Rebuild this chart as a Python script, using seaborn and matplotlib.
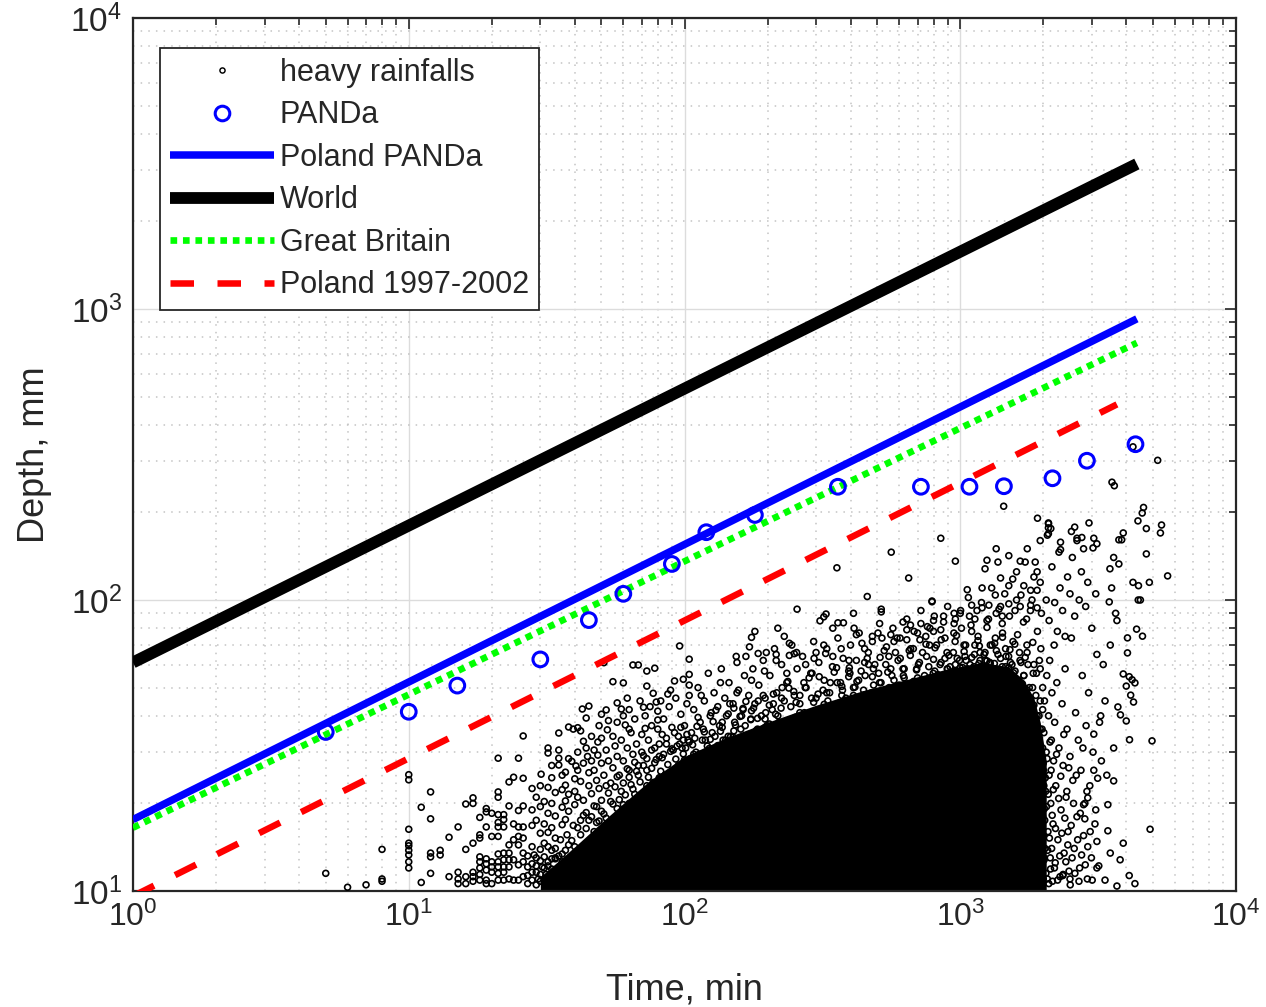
import numpy as np
import pandas as pd
import matplotlib
matplotlib.use("Agg")
import matplotlib.pyplot as plt
from matplotlib.lines import Line2D
import matplotlib.ticker as mticker
import seaborn as sns

# ---------------- data ----------------
panda_t = [5, 10, 15, 30, 45, 60, 90, 120, 180, 360, 720, 1080, 1440, 2160, 2880, 4320]
panda_d = [35.2, 41.3, 50.8, 62.5, 85.3, 105, 133, 171, 196, 245, 245, 245, 246, 262, 301, 343]

world_t = [1, 4370]
world_d = [61, 3150]
poland_panda_t = [1, 4370]
poland_panda_d = [17.6, 925]
gb_t = [1, 4370]
gb_d = [16.5, 765]
pl9702_t = [1, 3700]
pl9702_d = [9.6, 470]

# saturated (solid black) core of the heavy-rainfall cloud: upper envelope
core_t = [30, 36, 42, 50, 60, 75, 100, 140, 200, 300, 450, 650, 900, 1200, 1500, 1700, 1850, 1950, 2050]
core_top = [11.2, 13.0, 14.8, 17.2, 20.0, 24.0, 29.0, 33.5, 38.0, 43.5, 49.0, 53.5, 58.0, 61.0, 59.0, 53.0, 46.0, 38.0, 28.0]
core_low = 10.05

rain_left = [
    (5, 11.5), (6, 10.3), (7, 10.5), (8, 10.8), (8, 11.0), (8, 13.9),
    (10, 25.1), (10, 24.1), (10, 16.3), (10, 14.6), (10, 14.3), (10, 13.8), (10, 13.3), (10, 12.6), (10, 12.0),
    (11.1, 19.4), (11.1, 10.7), (12.0, 21.9), (12.0, 17.7), (12.0, 13.5), (12.0, 13.1), (12.0, 11.5),
    (13.0, 13.8), (13.0, 13.3), (14.0, 15.3), (14.0, 11.2), (15.1, 16.6), (15.1, 11.6), (15.1, 11.0),
    (15.1, 10.6), (16.1, 19.9), (16.1, 13.9), (16.1, 11.2), (16.1, 10.6), (17.1, 20.9), (17.1, 20.0),
    (17.1, 14.6), (17.1, 11.6), (17.1, 11.2), (17.1, 10.8), (18.1, 17.9), (18.1, 15.6), (18.1, 15.2),
    (18.1, 13.1), (18.1, 12.6), (18.1, 12.0), (18.1, 11.4), (18.1, 10.9), (19.1, 19.2), (19.1, 18.7),
    (19.1, 16.6), (19.1, 12.9), (19.1, 12.4), (19.1, 11.8), (19.1, 10.9), (19.1, 10.6), (20, 18.5),
    (20, 15.4), (20, 12.6), (20, 12.1), (20, 11.6), (20, 10.6), (21.1, 28.6), (21.1, 21.9), (21.1, 21.0),
    (21.1, 18.3), (21.1, 17.2), (21.1, 16.6), (21.1, 15.4), (21.1, 13.4), (21.1, 12.6), (21.1, 12.1),
    (21.1, 11.5), (21.1, 10.9), (22.1, 18.3), (22.1, 17.6), (22.1, 16.6), (22.1, 13.5), (22.1, 12.8),
    (22.1, 12.1), (22.1, 11.6), (22.1, 10.9), (23.1, 23.7), (23.1, 19.6), (23.1, 14.4), (23.1, 13.5),
    (23.1, 12.8), (23.1, 12.1), (23.1, 11.0), (24, 24.6), (24, 17.0), (24, 15.0), (24, 12.8), (24, 10.9),
    (25, 28.6), (25, 18.9), (25, 16.6), (25, 15.4), (25, 14.4), (25, 12.3), (25, 10.9), (26, 34.1),
    (26, 24.4), (26, 19.6), (26, 16.6), (26, 15.2), (26, 13.5), (26, 12.6), (26, 11.2),
    (27, 10.6), (27, 11.3), (27, 12.1), (27, 13.2), (28, 10.9), (28, 12.4), (29, 10.5), (29, 11.6),
    (29, 12.2), (30, 10.8), (30, 11.4), (31, 10.6), (31, 12.0), (31, 13.1), (32, 11.0), (32, 12.6),
    (33, 10.7), (33, 11.9), (34, 11.2), (34, 12.9), (35, 10.5), (35, 12.0), (36, 11.6), (36, 13.4),
    (28, 11.6), (28.5, 13.3), (29.5, 11.0), (30, 13.9), (30.5, 12.1), (31.5, 11.4), (32, 14.2),
    (33, 12.9), (34, 14.0), (35, 13.2), (35.5, 15.0), (37, 13.8), (37.5, 15.6), (39, 14.9),
    (39.5, 16.8), (42, 17.5), (44, 18.6), (46, 18.0), (48, 19.5), (50, 18.8),
]

rain_mid_left = [
    (30.2, 25.2), (32, 31.0), (32, 29.8), (35, 34.9), (35, 30.5), (35, 28.6), (35, 27.1), (33, 27.0),
    (37, 25.6), (39, 27.9), (38, 36.6), (39.5, 36.0), (41, 36.4), (42, 35.5), (40.4, 26.9), (42.6, 42.2),
    (45, 43.2), (44, 39.3), (43, 32.7), (44, 31.0), (44.5, 29.0), (48.5, 32.5), (48.5, 29.3), (50, 40.5),
    (52, 41.9), (51, 60.9), (52.5, 35.8), (55, 52.4), (57, 44.3), (59, 42.2), (60, 51.9), (62, 46.0),
    (61, 37.2), (63, 36.0), (65, 59.8), (68, 59.8), (73, 57.0), (78, 58.3), (73, 50.6), (77, 47.8),
    (79, 44.6), (71, 42.8), (72, 36.2), (80, 38.7), (80, 36.0), (82, 45.0), (87, 47.5), (89, 49.0),
    (92, 52.7), (99, 53.4), (96, 69.5), (104, 62.6), (104, 55.5), (104, 51.0), (104, 47.0),
    (28, 22.5), (28, 19.0), (28, 16.8), (28, 14.2), (29, 21.0), (29, 17.5), (29, 13.0), (30, 23.0),
    (30, 19.5), (30, 15.8), (30, 12.7), (31, 20.3), (31, 17.0), (31, 14.6), (32, 22.7), (32, 18.5),
    (32, 15.9), (33, 24.5), (33, 20.0), (33, 16.5), (33, 13.8), (34, 21.8), (34, 18.1), (34, 15.2),
    (36, 25.0), (36, 22.3), (36, 19.4), (36, 16.9), (37, 23.1), (37, 20.4), (37, 17.6), (38, 28.5),
    (38, 21.5), (38, 18.8), (40, 24.3), (40, 22.0), (40, 19.8), (41, 30.0), (41, 26.0), (41, 21.0),
    (42, 23.8), (43, 27.5), (43, 20.5), (45, 25.5), (45, 23.0), (46, 34.0), (46, 28.0), (46, 21.6),
    (47, 30.5), (47, 26.0), (48, 24.0), (49, 37.0), (49, 22.5), (50, 33.5), (50, 27.5), (51, 25.0),
    (52, 30.5), (53, 38.5), (53, 28.0), (54, 23.5), (55, 34.0), (55, 26.5), (56, 31.5), (57, 38.0),
    (57, 29.0), (58, 25.0), (59, 33.0), (60, 40.0), (60, 28.0), (62, 31.0), (63, 42.0), (63, 26.0),
    (64, 35.0), (65, 29.5), (66, 39.0), (67, 32.0), (68, 27.0), (69, 45.0), (70, 34.5), (70, 30.0),
    (72, 40.0), (73, 28.5), (74, 33.0), (75, 43.0), (76, 37.0), (78, 31.0), (80, 41.5), (81, 29.0),
    (83, 34.5), (84, 39.0), (86, 32.0), (88, 43.0), (90, 36.5), (91, 30.5), (93, 46.0), (95, 34.0),
    (97, 40.5), (98, 31.0), (100, 37.0), (102, 44.0), (103, 33.0),
    (52, 23.0), (54, 20.3), (57, 24.7), (59, 22.0), (62, 26.3), (64, 23.2), (66, 27.7), (68, 25.0),
    (71, 29.2), (73, 26.0), (76, 30.5), (78, 27.6), (81, 32.0), (83, 28.7), (86, 33.5), (89, 30.2),
    (92, 35.0), (94, 31.5), (97, 36.5), (99, 33.0),
]

rain_edge = [
    (32, 12.2), (34, 13.0), (36, 12.6), (38, 14.4), (40, 14.2), (42, 15.6), (44, 16.4), (47, 16.0),
    (49, 17.4), (52, 17.8), (54, 17.0), (57, 19.2), (60, 19.8), (63, 20.0), (66, 21.5), (69, 21.0),
    (73, 23.0), (77, 23.6), (81, 24.5), (85, 25.0), (90, 25.3), (95, 27.0), (100, 28.2), (108, 29.5),
    (115, 29.0), (123, 30.9), (132, 31.6), (141, 32.2), (150, 33.8), (160, 33.5), (170, 34.3),
    (182, 35.6), (195, 36.4), (210, 36.2), (225, 37.8), (240, 38.7), (258, 38.0), (277, 40.3),
    (297, 41.2), (318, 41.0), (340, 43.0), (365, 44.3), (390, 43.6), (418, 46.0), (448, 47.2),
    (480, 46.5), (515, 48.6), (552, 50.0), (590, 49.0), (632, 51.3), (677, 52.5), (725, 51.5),
    (776, 54.0), (830, 55.4), (890, 54.3), (953, 57.0), (1020, 58.6), (1090, 57.7), (1168, 60.5),
    (1250, 61.8), (1330, 60.5), (1420, 59.0), (1500, 58.5), (1560, 56.2), (1620, 53.0), (1680, 51.5),
    (1740, 49.2), (1800, 46.0), (1850, 43.5), (1900, 40.0), (1950, 36.0), (1990, 31.0), (2000, 27.5),
    (2010, 23.0), (2020, 19.2), (2000, 15.5), (2010, 13.0), (2000, 11.0),
]

rain_mid = [
    (106, 35), (108, 42), (110, 30), (112, 50), (114, 38), (116, 33), (118, 45), (120, 29.5),
    (122, 56), (124, 40), (126, 35), (128, 48), (130, 31), (132, 43), (134, 37), (136, 58),
    (138, 33), (140, 46), (142, 40), (145, 52), (147, 34), (150, 44), (152, 38), (155, 61),
    (157, 49), (160, 36), (163, 42), (165, 55), (168, 32), (171, 47), (174, 39), (177, 58),
    (180, 44), (183, 35), (186, 51), (190, 40), (193, 62), (196, 46), (199, 37),
    (204, 55), (208, 42), (212, 68), (216, 48), (220, 38), (225, 60), (230, 45), (235, 52),
    (240, 36), (245, 70), (250, 47), (256, 58), (262, 41), (268, 64), (274, 50), (280, 39),
    (287, 56), (294, 72), (300, 46), (307, 61), (314, 42), (321, 53), (328, 68), (336, 48),
    (344, 59), (352, 43), (360, 74), (368, 52), (376, 63), (385, 46), (394, 57), (400, 70),
    (410, 50), (420, 62), (430, 45), (440, 71), (452, 55), (464, 66), (476, 48), (490, 60),
    (503, 77), (516, 52), (530, 67), (545, 47), (560, 58), (575, 72), (590, 50), (606, 63),
    (622, 55), (640, 79), (658, 49), (676, 68), (695, 58), (714, 73), (734, 52), (755, 64),
    (776, 80), (798, 56),
    (820, 70), (845, 60), (870, 88), (895, 66), (920, 55), (948, 77), (975, 63), (1003, 92),
    (1032, 70), (1062, 58), (1094, 82), (1126, 65), (1160, 75), (1194, 98), (1230, 62), (1266, 86),
    (1304, 70), (1342, 58), (1382, 93), (1423, 77), (1465, 64), (1508, 88), (1553, 72), (1600, 100),
    (1647, 62), (1695, 84), (1745, 70), (1797, 92), (1850, 60), (1905, 78), (1960, 68),
    (1050, 62), (1120, 59), (1180, 66), (1280, 61), (1370, 65), (1460, 59), (1540, 60), (1700, 55),
    (1780, 50), (1880, 47), (900, 58), (960, 60), (700, 54), (600, 51), (470, 47), (350, 42),
]

rain_mid2 = [
    (101, 31), (105, 28.5), (109, 33.5), (113, 29.5), (117, 36), (121, 31.5), (125, 41), (129, 34),
    (133, 30.5), (137, 38), (141, 33), (146, 44), (151, 35.5), (156, 32), (161, 40), (166, 37),
    (172, 34.5), (178, 42.5), (184, 36), (190, 33.8), (196, 39),
    (203, 37.5), (210, 44), (218, 40), (226, 50), (234, 37.8), (243, 43), (252, 39.5), (262, 47),
    (272, 41), (283, 54), (294, 44.5), (306, 40.5), (318, 49), (331, 45), (344, 42.5), (358, 52),
    (372, 47), (387, 44), (398, 56),
    (410, 47), (428, 53), (446, 49), (465, 60), (485, 51), (506, 56), (528, 48.5), (551, 64),
    (575, 53), (600, 50), (626, 58), (653, 67), (681, 52), (711, 61), (742, 55), (774, 70),
    (808, 57), (843, 53), (880, 63), (918, 59), (958, 72), (1000, 58.5),
    (1040, 64), (1085, 60), (1130, 70), (1180, 62), (1230, 66), (1285, 60.5), (1340, 74), (1400, 63),
    (1460, 68), (1520, 61), (1580, 57), (1640, 66), (1700, 55), (1760, 60), (1830, 50), (1890, 56),
    (1950, 45), (1990, 50), (1930, 40), (1980, 36),
    (115, 47), (135, 52), (155, 48), (175, 53), (195, 57), (215, 62), (235, 56), (255, 66),
    (275, 60), (295, 63), (320, 70), (345, 64), (370, 68), (395, 62), (420, 76), (450, 68),
    (480, 72), (510, 83), (540, 69), (570, 80), (605, 74), (640, 86), (680, 78), (720, 92),
    (760, 81), (805, 88), (850, 79), (900, 95), (950, 90), (1010, 80), (1070, 102), (1130, 86),
    (1200, 110), (1270, 96), (1340, 104), (1420, 88), (1500, 112), (1580, 92), (1660, 104),
    (1740, 86), (1820, 100), (1900, 108), (1970, 90),
]

rain_mid3 = [
    (41, 16.5), (43, 18.2), (45, 17.5), (47, 19.6), (48, 17.2), (50, 20.5), (51, 18.4), (53, 21.7),
    (55, 19.9), (56, 22.8), (58, 20.6), (60, 23.5), (61, 21.4), (63, 24.6), (65, 22.4), (67, 25.8),
    (69, 23.7), (71, 27.0), (74, 24.6), (76, 26.4), (79, 28.3), (82, 25.8), (84, 29.5), (87, 27.2),
    (90, 30.8), (93, 28.4), (96, 32.0), (99, 29.6),
    (104, 32.5), (111, 36.8), (119, 33.0), (127, 38.2), (135, 35.4), (144, 40.6), (153, 37.2),
    (163, 42.4), (174, 38.8), (185, 45.0), (197, 41.0), (210, 47.5), (224, 42.5), (239, 49.8),
    (254, 44.5), (271, 52.0), (289, 46.0), (308, 54.5), (328, 48.0), (349, 56.5), (372, 50.5),
    (396, 58.5),
    (422, 52.5), (450, 61.0), (480, 54.5), (512, 63.5), (546, 56.5), (582, 66.0), (620, 58.0),
    (661, 68.0), (705, 60.0), (751, 70.5), (800, 62.5), (853, 73.0), (909, 64.5), (969, 75.5),
    (1033, 66.5), (1100, 78.0), (1173, 69.5), (1250, 80.5), (1333, 71.0), (1420, 83.0), (1514, 67.5),
    (1614, 76.0), (1720, 63.5), (1833, 71.5), (1950, 58.0),
    (2015, 12.8), (2025, 17.5), (2035, 24.5), (2045, 11.5), (2055, 19.5), (2065, 28.5), (2075, 13.8),
    (2085, 21.5), (2095, 10.6), (2105, 15.2), (2115, 32.5), (2125, 11.9), (2135, 26.0), (2145, 14.0),
    (2155, 18.2), (2175, 22.3), (2195, 12.0), (2215, 16.4), (2235, 29.5), (2255, 10.9), (2275, 20.8),
    (2295, 13.2), (2315, 24.8), (2335, 15.8), (2355, 11.3), (2375, 34.5), (2395, 17.8), (2415, 12.6),
    (2435, 22.0), (2455, 14.4), (2475, 26.5), (2505, 10.5), (2525, 16.8), (2545, 13.0), (2575, 20.0),
    (2605, 11.5), (2635, 25.0), (2665, 15.0), (2695, 10.8), (2725, 18.5), (2755, 13.3), (2785, 31.0),
    (2840, 12.3), (2880, 22.0), (2960, 16.0), (3010, 10.9), (3100, 19.0),
]

rain_mid4 = [
    (102, 34.5), (107, 31.8), (112, 39.5), (118, 35.2), (124, 33.2), (130, 41.8), (137, 36.5),
    (144, 34.0), (151, 42.5), (159, 39.8), (167, 44.8), (175, 41.6), (184, 39.2), (193, 47.0),
    (203, 43.5), (214, 40.5), (225, 46.0), (237, 52.5), (249, 48.5), (262, 44.0), (276, 50.0),
    (290, 56.0), (305, 47.5), (321, 43.8), (338, 52.0), (356, 58.5), (374, 49.0), (394, 54.5),
    (415, 50.2), (437, 57.0), (460, 63.0), (484, 58.0), (510, 52.0), (537, 60.0), (565, 55.0),
    (595, 62.0), (626, 54.0), (659, 64.5), (694, 57.5), (730, 66.0), (769, 59.0), (810, 68.5),
    (852, 61.0), (897, 58.0), (944, 66.0), (994, 62.0), (1046, 70.0), (1101, 63.5), (1159, 72.5),
    (1220, 65.0), (1285, 70.0), (1352, 67.0), (1423, 74.5), (1498, 64.0), (1577, 70.5), (1660, 61.0),
    (1747, 66.0), (1839, 56.0), (1936, 62.0), (1990, 42.0),
]

rain_upper = [
    (1437, 210), (1906, 191), (2088, 184), (2088, 177), (2088, 169), (850, 163), (562, 146), (960, 136),
    (357, 129), (650, 119), (460, 102.8), (790, 99.2), (1250, 137), (1230, 128), (1370, 135), (1650, 136),
    (1720, 135), (1870, 135), (1900, 125), (1400, 119), (1060, 108.5), (256, 93), (517, 93), (790, 98.6),
    (310, 84.8), (320, 87.5), (326, 89.5), (345, 80), (360, 83.5), (377, 83.5), (410, 90), (412, 80),
    (430, 77), (517, 91), (218, 80), (230, 75), (240, 71), (250, 65.4), (180, 78), (175, 74.4),
    (172, 69), (167, 64), (154, 64), (185, 65.5), (198, 66), (215, 65), (240, 64.5), (300, 66),
    (325, 65.5), (620, 84), (660, 82), (720, 83), (800, 85), (870, 84), (950, 83), (480, 75),
    (520, 74), (560, 76), (590, 74), (640, 73), (700, 77), (750, 75), (800, 78), (880, 74), (960, 86),
    (1000, 90), (1080, 88), (1150, 92), (1250, 85), (1350, 90), (1400, 95), (1100, 96), (1200, 94),
    (1500, 97), (1650, 95), (1800, 96), (1900, 94), (1300, 110), (1450, 105), (1550, 118), (1600, 125),
    (1700, 112), (1800, 108), (1950, 115), (1350, 150), (1500, 142), (1750, 150), (1950, 160), (1850, 120),
]

rain_right = [
    (1980, 12), (1990, 18), (2000, 26), (2010, 35), (2020, 45), (2030, 14), (2040, 22), (2050, 30),
    (2060, 55), (2070, 11), (2080, 16), (2090, 40), (2100, 25), (2110, 62), (2120, 13), (2130, 20),
    (2140, 33), (2150, 48), (2160, 10.8), (2170, 17), (2180, 28), (2190, 70), (2200, 38), (2210, 12.5),
    (2220, 23), (2240, 52), (2260, 15), (2280, 31), (2300, 11.2), (2320, 19), (2340, 44), (2360, 27),
    (2380, 13.5), (2400, 58), (2420, 21), (2440, 36), (2460, 16), (2480, 11.7), (2500, 29), (2530, 74),
    (2560, 24), (2590, 14), (2620, 41), (2650, 18), (2680, 33), (2710, 12), (2740, 26), (2770, 55),
    (2800, 15.5), (2830, 20), (2860, 37), (2890, 11), (2920, 48), (2950, 23), (2990, 13), (3030, 30),
    (3080, 17), (3130, 65), (3180, 12.2), (3230, 40),
    (2100, 85), (2200, 98), (2300, 110), (2350, 92), (2450, 120), (2500, 105), (2550, 140), (2600, 88),
    (2700, 100), (2750, 125), (2850, 95), (2900, 115), (3000, 80), (3100, 105), (2650, 160), (2800, 150),
    (2400, 75), (2250, 78), (2150, 130), (2050, 100),
    (4230, 336), (5200, 302), (3550, 254), (3620, 247), (4620, 208), (4570, 199), (4410, 187), (4730, 176),
    (5370, 181), (5320, 170), (4730, 144), (5650, 121), (4230, 115), (4430, 112), (4850, 115), (4500, 100),
    (3900, 170), (3760, 161), (3850, 161), (2930, 184), (3050, 163), (3130, 156), (3030, 151), (3600, 140),
    (3760, 133), (3490, 128), (2600, 178), (2530, 172), (2650, 163), (2760, 164), (2090, 183), (2130, 176),
    (2070, 167), (2310, 158), (2310, 149), (2280, 146), (3540, 110), (3470, 98.5), (3660, 90), (4420, 100),
    (4360, 79.4), (4580, 75.1), (4040, 74.1), (4040, 65.8), (3900, 55.7), (4100, 54.5), (4200, 53.2),
    (4300, 51.9), (4000, 50.6), (4150, 47.1), (4250, 44.6), (3730, 42.9), (3810, 40.3), (4000, 38.4),
    (4110, 33.1), (4960, 32.8), (3430, 19.8), (3430, 16.1), (4880, 16.3), (3130, 12.0), (3600, 23.9),
    (3400, 25), (3150, 24.4), (3200, 38), (3050, 34.6), (3130, 14.8), (2900, 14.2), (2500, 11.0),
    (2360, 11.4), (2830, 17.7), (2900, 20.9), (2800, 19.8), (3050, 26), (3300, 60), (3500, 70),
    (3350, 45), (3700, 85), (3250, 28), (3600, 31), (3800, 12.8), (4100, 11.3), (3500, 13.5),
    (3900, 14.6), (4300, 10.6), (3700, 10.4), (3350, 10.9),
]

legend_labels = ["heavy rainfalls", "PANDa", "Poland PANDa", "World", "Great Britain", "Poland 1997-2002"]

# ---------------- style ----------------
sns.set_style("white")
plt.rcParams["font.family"] = ["Liberation Sans", "DejaVu Sans"]
plt.rcParams["mathtext.default"] = "regular"

fig = plt.figure(figsize=(12.66, 10.07), dpi=100)
ax = fig.add_axes([133 / 1266, 1 - 891 / 1007, (1236 - 133) / 1266, (891 - 18) / 1007])

ax.set_xscale("log")
ax.set_yscale("log")
ax.set_xlim(1, 1e4)
ax.set_ylim(10, 1e4)

# grid
ax.grid(True, which="major", color="#dcdcdc", lw=1.0, ls="-", zorder=0)
ax.grid(True, which="minor", color="#c4c4c4", lw=1.1, ls=(0, (1, 4)), zorder=0)
ax.set_axisbelow(True)

# heavy rainfalls cloud
ax.fill_between(core_t, core_low, core_top, color="black", lw=0, zorder=2)
rain = pd.DataFrame(rain_left + rain_mid_left + rain_edge + rain_mid + rain_mid2 + rain_mid3
                    + rain_mid4 + rain_upper + rain_right, columns=["t", "d"])
sns.scatterplot(data=rain, x="t", y="d", ax=ax, marker="o", s=18, facecolor="none",
                edgecolor="black", linewidth=1.2, zorder=3, legend=False)

# lines
GREEN_DASH = (0, (1.0, 0.87))
RED_DASH = (0, (3.6, 3.6))
sns.lineplot(x=world_t, y=world_d, ax=ax, color="black", lw=8.5, zorder=4,
             solid_capstyle="butt", legend=False)
sns.lineplot(x=poland_panda_t, y=poland_panda_d, ax=ax, color="#0000ff", lw=5.4, zorder=4,
             solid_capstyle="butt", legend=False)
sns.lineplot(x=gb_t, y=gb_d, ax=ax, color="#00ff00", lw=4.8, zorder=4, legend=False)
ax.lines[-1].set_linestyle(GREEN_DASH)
ax.lines[-1].set_dash_capstyle("butt")
sns.lineplot(x=pl9702_t, y=pl9702_d, ax=ax, color="#ff0000", lw=4.7, zorder=4, legend=False)
ax.lines[-1].set_linestyle(RED_DASH)
ax.lines[-1].set_dash_capstyle("butt")

# PANDa points
sns.scatterplot(x=panda_t, y=panda_d, ax=ax, marker="o", s=112, facecolor="none",
                edgecolor="#0000ff", linewidth=2.2, zorder=5, legend=False)

# axes cosmetics
for sp in ax.spines.values():
    sp.set_color("#262626")
    sp.set_linewidth(1.6)
ax.tick_params(which="both", direction="in", top=True, right=True, colors="#262626",
               labelsize=23, width=1.2)
ax.tick_params(axis="y", which="major", labelsize=24)
ax.tick_params(which="major", length=8, pad=8)
ax.tick_params(which="minor", length=5)
ax.xaxis.set_major_locator(mticker.LogLocator(base=10, numticks=10))
ax.yaxis.set_major_locator(mticker.LogLocator(base=10, numticks=10))
ax.xaxis.set_minor_locator(mticker.LogLocator(base=10, subs=np.arange(2, 10), numticks=50))
ax.yaxis.set_minor_locator(mticker.LogLocator(base=10, subs=np.arange(2, 10), numticks=50))
ax.xaxis.set_minor_formatter(mticker.NullFormatter())
ax.yaxis.set_minor_formatter(mticker.NullFormatter())

ax.set_xlabel("Time, min", fontsize=26, color="#262626", labelpad=28)
ax.set_ylabel("Depth, mm", fontsize=26, color="#262626", labelpad=13)

# legend
handles = [
    Line2D([], [], ls="none", marker="o", ms=3.7, mfc="none", mec="black", mew=1.05),
    Line2D([], [], ls="none", marker="o", ms=10.5, mfc="none", mec="#0000ff", mew=2.2),
    Line2D([], [], color="#0000ff", lw=5.4, solid_capstyle="butt"),
    Line2D([], [], color="black", lw=8.5, solid_capstyle="butt"),
    Line2D([], [], color="#00ff00", lw=4.8, ls=GREEN_DASH, dash_capstyle="butt"),
    Line2D([], [], color="#ff0000", lw=4.7, ls=RED_DASH, dash_capstyle="butt"),
]
leg = ax.legend(handles, legend_labels, loc="upper left", bbox_to_anchor=(0.0245, 0.9656),
                borderaxespad=0, fontsize=22, handlelength=3.4, handletextpad=0.2,
                labelspacing=0.41, borderpad=0.32, frameon=True, fancybox=False, framealpha=1)
leg.get_frame().set_edgecolor("#262626")
leg.get_frame().set_linewidth(1.3)
leg.set_zorder(10)

fig.savefig("out.png", dpi=100, facecolor="white")
